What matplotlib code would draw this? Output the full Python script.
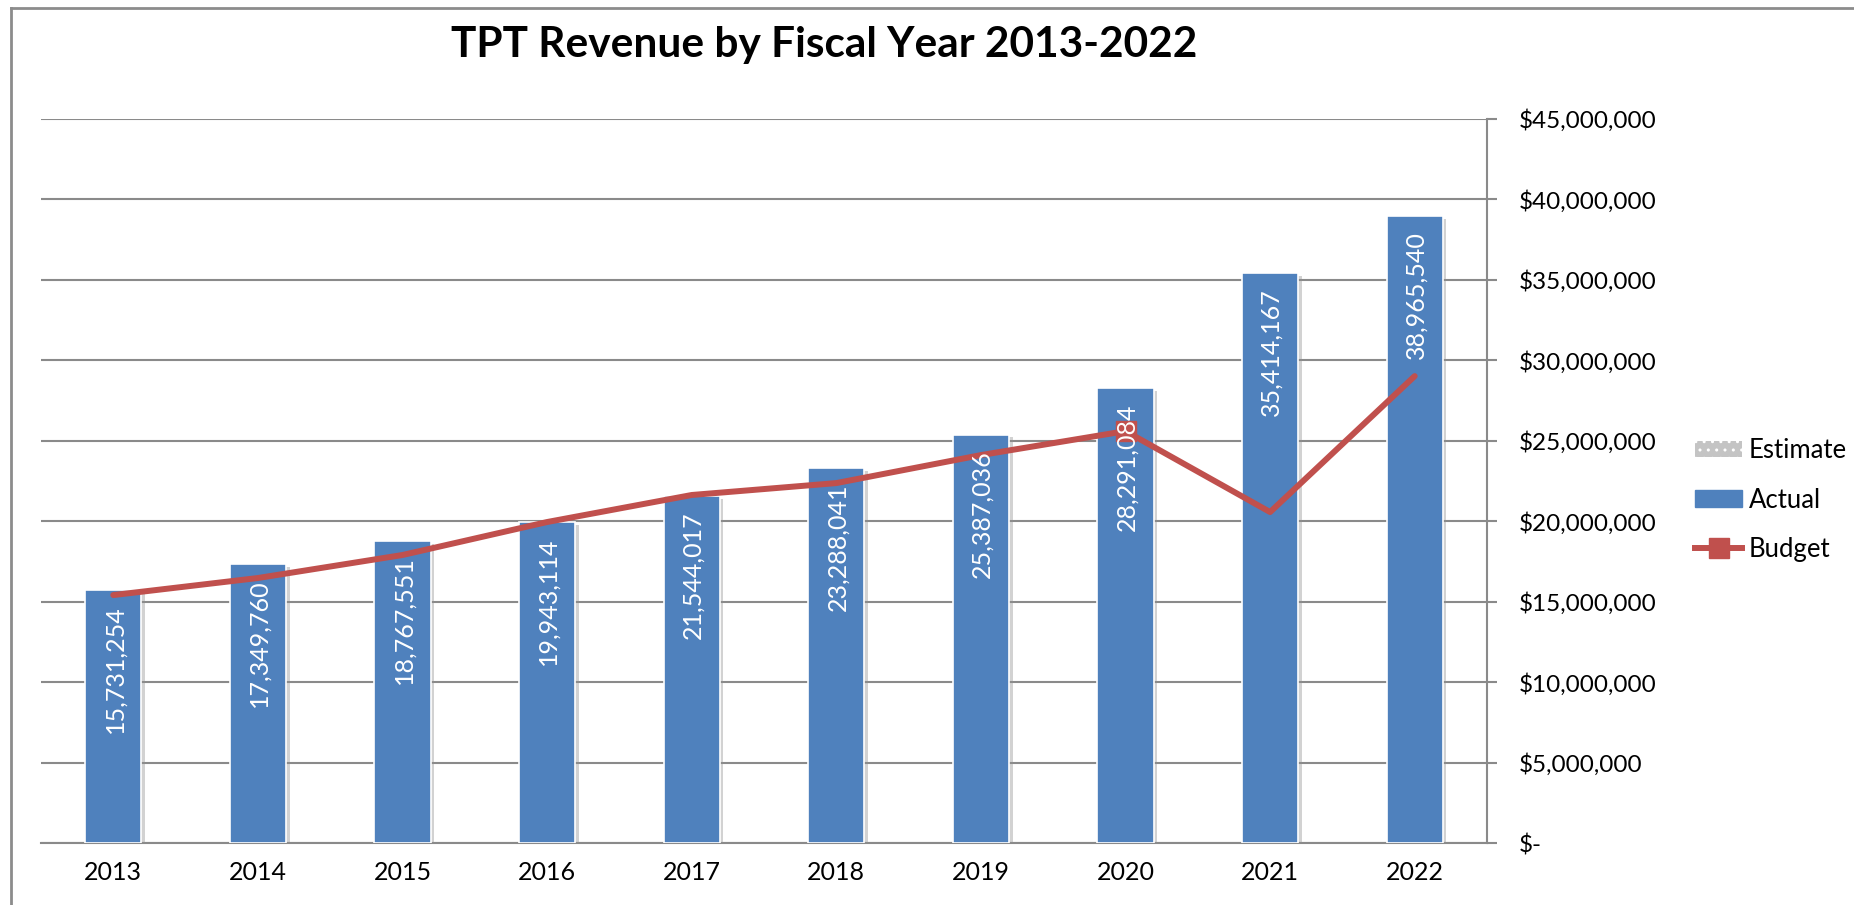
import numpy as np
import matplotlib
matplotlib.use('Agg')
import matplotlib.pyplot as plt
import matplotlib.patheffects as pe
from matplotlib.patches import Patch
from matplotlib.lines import Line2D
from matplotlib.ticker import FuncFormatter

plt.rcParams['font.family'] = ['Lato', 'DejaVu Sans']

# data
years = ['2013', '2014', '2015', '2016', '2017', '2018', '2019', '2020', '2021', '2022']
actual = [15731254, 17349760, 18767551, 19943114, 21544017,
          23288041, 25387036, 28291084, 35414167, 38965540]
budget = [15.41e6, 16.47e6, 17.9e6, 19.95e6, 21.63e6,
          22.37e6, 24.11e6, 25.6e6, 20.57e6, 29.02e6]
y_ticks = [0, 5e6, 10e6, 15e6, 20e6, 25e6, 30e6, 35e6, 40e6, 45e6]

bar_col = '#4F81BD'
line_col = '#C0504D'
grid_col = '#8a8a8a'

W, H = 1854, 905
fig = plt.figure(figsize=(W/100, H/100), dpi=100)
ax = fig.add_axes([41/W, 1-843/H, (1487-41)/W, (843-119)/H])

x = np.arange(len(years))
bars = ax.bar(x, actual, width=0.39, color=bar_col, edgecolor='white', linewidth=1.2, zorder=3)
for b in bars:
    b.set_path_effects([pe.SimplePatchShadow(offset=(2.5, -2), shadow_rgbFace='#909090', alpha=0.4),
                        pe.Normal()])

ax.plot(x, budget, color=line_col, linewidth=4.3, marker='s', markersize=14,
        markevery=[7], solid_capstyle='round', zorder=4)

for xi, v in zip(x, actual):
    ax.annotate(f'{v:,.0f}', xy=(xi, v), xytext=(1, -11), textcoords='offset points',
                rotation=90, ha='center', va='top', color='white', fontsize=18, zorder=5)

ax.set_xlim(-0.5, len(years)-0.5)
ax.set_ylim(0, 45e6)
ax.set_yticks(y_ticks)
ax.yaxis.tick_right()
ax.yaxis.set_major_formatter(FuncFormatter(lambda v, p: '$-' if v == 0 else f'${v:,.0f}'))
ax.set_xticks(x)
ax.set_xticklabels(years)
ax.tick_params(axis='y', which='both', length=7, width=1.5, color=grid_col, pad=16, labelsize=17.5, right=True, left=False)
ax.tick_params(axis='x', length=0, pad=13, labelsize=18)

ax.grid(axis='y', color=grid_col, linewidth=1.5, zorder=0)
ax.set_axisbelow(True)
for s in ['top', 'left']:
    ax.spines[s].set_visible(False)
ax.spines['right'].set_color(grid_col)
ax.spines['right'].set_linewidth(1.5)
ax.spines['bottom'].set_color(grid_col)
ax.spines['bottom'].set_linewidth(1.5)

fig.text(824/W, 1-45/H, 'TPT Revenue by Fiscal Year 2013-2022', ha='center', va='center',
         fontsize=30.5, fontweight='bold')

handles = [Patch(facecolor='#c4c4c4', edgecolor='white', hatch='..', linewidth=0),
           Patch(facecolor=bar_col, edgecolor=bar_col),
           Line2D([], [], color=line_col, linewidth=4.3, marker='s', markersize=14)]
fig.legend(handles, ['Estimate', 'Actual', 'Budget'], loc='center left',
           bbox_to_anchor=(1682/W, 1-500/H), frameon=False, fontsize=18.5,
           handlelength=1.85, handleheight=0.6, handletextpad=0.25, labelspacing=0.95, borderpad=0)

# outer chart border (top and left visible)
fig.add_artist(Line2D([11/W, 11/W], [0, 1-8/H], color='#8c8c8c', linewidth=2, transform=fig.transFigure))
fig.add_artist(Line2D([11/W, 1], [1-8/H, 1-8/H], color='#8c8c8c', linewidth=2, transform=fig.transFigure))

fig.savefig('out.png', dpi=100)
